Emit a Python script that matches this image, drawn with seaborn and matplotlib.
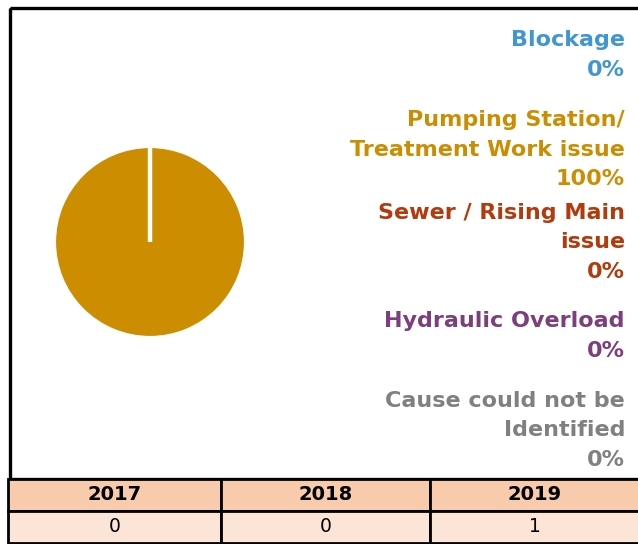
import matplotlib.pyplot as plt
import seaborn as sns
from matplotlib.patches import Rectangle

# data
causes = ["Blockage",
          "Pumping Station/\nTreatment Work issue",
          "Sewer / Rising Main\nissue",
          "Hydraulic Overload",
          "Cause could not be\nIdentified"]
shares = [0, 100, 0, 0, 0]
cause_colors = ["#3F96D2", "#CC8E00", "#B23A0C", "#7C3F7B", "#808080"]
years = ["2017", "2018", "2019"]
counts = [0, 0, 1]

W, H = 638, 544


def box(x, y, w, h):
    # pixel box (from top-left) -> figure fraction
    return [x / W, 1 - (y + h) / H, w / W, h / H]


def makeChart():
    sns.set_theme(style="white")
    plt.rcParams["font.family"] = ["DejaVu Sans"]

    fig = plt.figure(figsize=(W / 100, H / 100), dpi=100)

    bg = fig.add_axes([0, 0, 1, 1])
    bg.set_xlim(0, W)
    bg.set_ylim(H, 0)
    bg.axis("off")
    bg.add_patch(Rectangle((9.5, 7.5), 640, 471, fill=False, lw=2.4, ec="black"))

    # pie
    ax = fig.add_axes(box(54, 146, 192, 192))
    ax.pie(shares, colors=cause_colors, startangle=90, counterclock=False,
           wedgeprops=dict(edgecolor="white", linewidth=3))
    ax.set_xlim(-1, 1)
    ax.set_ylim(-1, 1)
    ax.set_aspect("equal")

    # labels on the right
    label_y = [55, 149.5, 242.5, 336, 430.5]
    for name, share, col, y in zip(causes, shares, cause_colors, label_y):
        bg.text(625, y, f"{name}\n{share}%", color=col, ha="right", va="center",
                multialignment="right", fontsize=16, fontweight="bold", linespacing=1.62)

    # table underneath
    tb = fig.add_axes(box(8, 479, 632, 64))
    tb.axis("off")
    table = tb.table(cellText=[[str(c) for c in counts]], colLabels=years,
                     cellLoc="center", colColours=["#F8CBAD"] * 3,
                     cellColours=[["#FCE4D6"] * 3],
                     colWidths=[213 / 632, 209 / 632, 210 / 632], bbox=[0, 0, 1, 1])
    table.auto_set_font_size(False)
    for (r, c), cell in table.get_celld().items():
        cell.set_linewidth(2)
        cell.set_edgecolor("black")
        cell.get_text().set_color("black")
        if r == 0:
            cell.get_text().set_fontweight("bold")
            cell.get_text().set_fontsize(14)
        else:
            cell.get_text().set_fontsize(13.5)

    fig.savefig("out.png", dpi=100)


if __name__ == "__main__":
    makeChart()
